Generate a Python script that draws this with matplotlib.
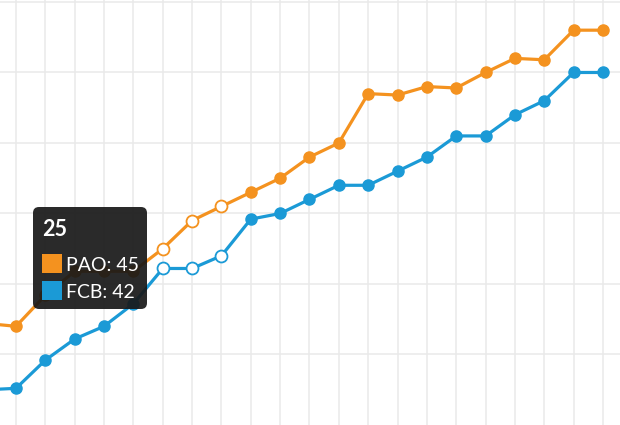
import matplotlib
matplotlib.use("Agg")
import matplotlib.pyplot as plt
from matplotlib.patches import FancyBboxPatch, Rectangle
from matplotlib.transforms import IdentityTransform

plt.rcParams['font.family'] = ['Lato', 'DejaVu Sans']

# rounds shown (first one sits just off the left edge)
rounds = list(range(20, 42))

# cumulative points
pao = [41.2, 41.0, 43.2, 44.9, 44.9, 44.9, 46.5, 48.5, 49.5, 50.5, 51.5,
       53.0, 54.0, 57.5, 57.4, 58.0, 57.9, 59.0, 60.0, 59.9, 62.0, 62.0]
fcb = [36.5, 36.6, 38.6, 40.1, 41.0, 42.6, 45.1, 45.1, 46.0, 48.6, 49.0,
       50.0, 51.0, 51.0, 52.0, 53.0, 54.5, 54.5, 56.0, 57.0, 59.0, 59.0]

# points drawn hollow (hover state)
hollow_rounds = [26, 27, 28]

# tooltip content
tip_round = 25
tip_pao = 45
tip_fcb = 42

ORANGE = '#F4921F'
BLUE = '#1B9AD6'

fig = plt.figure(figsize=(6.2, 4.25), dpi=100)
ax = fig.add_axes([0, 0, 1, 1])

for vals, col in [(pao, ORANGE), (fcb, BLUE)]:
    ax.plot(rounds, vals, color=col, lw=2.3, zorder=3)
    filled = [(r, v) for r, v in zip(rounds, vals) if r not in hollow_rounds]
    ax.plot([p[0] for p in filled], [p[1] for p in filled], 'o', ms=8,
            color=col, mec=col, zorder=4)
    hol = [(r, v) for r, v in zip(rounds, vals) if r in hollow_rounds]
    ax.plot([p[0] for p in hol], [p[1] for p in hol], 'o', ms=8.6,
            mfc='white', mec=col, mew=1.3, zorder=4)

ax.set_xlim(20.455, 41.58)
ax.set_ylim(34.0, 64.14)
ax.set_xticks(rounds[1:])
ax.set_yticks([39, 44, 49, 54, 59, 64])
ax.grid(True, color='#EAEAEA', lw=1.1, zorder=0)
ax.tick_params(length=0, labelbottom=False, labelleft=False)
for s in ax.spines.values():
    s.set_visible(False)

# tooltip, in pixel coordinates (origin bottom-left)
H = 425
px = IdentityTransform()
box = FancyBboxPatch((33, H - 309), 114, 102,
                     boxstyle='round,pad=0,rounding_size=6',
                     fc='#181818', ec='none', alpha=0.92,
                     transform=px, zorder=10)
fig.add_artist(box)
fig.text(42, H - 236, str(tip_round), transform=px, color='white',
         fontsize=15.5, fontweight='bold', va='baseline', zorder=11)
fig.add_artist(Rectangle((42, H - 273), 20, 19, fc=ORANGE, ec='none',
                         transform=px, zorder=11))
fig.add_artist(Rectangle((42, H - 300), 20, 19, fc=BLUE, ec='none',
                         transform=px, zorder=11))
fig.text(66, H - 271, f"PAO: {tip_pao}", transform=px, color='white',
         fontsize=14, va='baseline', zorder=11)
fig.text(66, H - 298, f"FCB: {tip_fcb}", transform=px, color='white',
         fontsize=14, va='baseline', zorder=11)

fig.savefig('out.png', dpi=100)
